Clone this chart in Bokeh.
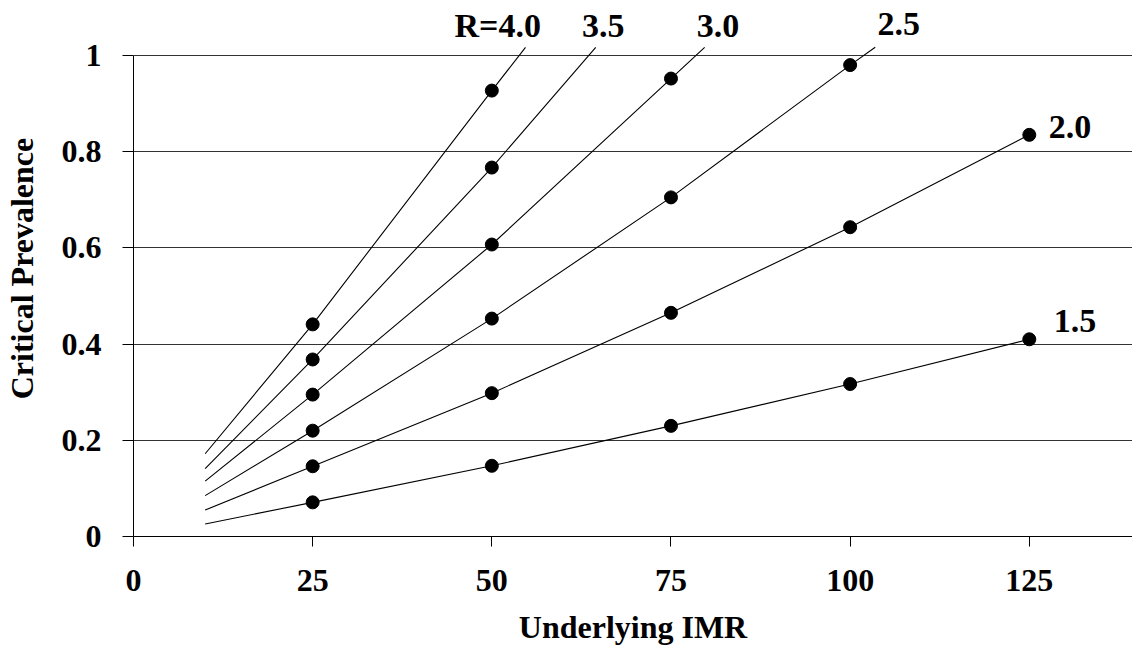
from bokeh.plotting import figure
from bokeh.models import ColumnDataSource, LabelSet, FixedTicker, CustomJSTickFormatter, Range1d
from bokeh.core.properties import value
from bokeh.embed import file_html
from bokeh.resources import INLINE

# ---- data ----
imr = [25, 50, 75, 100, 125]
r_values = ["1.5", "2.0", "2.5", "3.0", "3.5", "4.0"]
prev_r15 = [0.071, 0.147, 0.230, 0.317, 0.410]
prev_r20 = [0.146, 0.298, 0.465, 0.643, 0.835]
prev_r25 = [0.220, 0.453, 0.705, 0.980]
prev_r30 = [0.295, 0.607, 0.952]
prev_r35 = [0.368, 0.767]
prev_r40 = [0.441, 0.927]
# curves start at IMR = 10
start_imr = 10
start_prev = [0.026, 0.055, 0.085, 0.115, 0.141, 0.172]
# where the steeper curves leave the top of the chart
exit_imr = [None, None, 103.5, 79.7, 64.5, 54.7]
exit_prev = 1.017

x_ticks = [0, 25, 50, 75, 100, 125]
y_ticks = [0, 0.2, 0.4, 0.6, 0.8, 1.0]

label_text = ["R=4.0", "3.5", "3.0", "2.5", "2.0", "1.5"]
label_imr = [44.8, 62.6, 78.6, 103.8, 127.7, 128.4]
label_prev = [1.038, 1.038, 1.038, 1.042, 0.828, 0.426]

FONT = "Liberation Serif"

p = figure(width=1132, height=656, output_backend="svg", toolbar_location=None,
           x_range=Range1d(0, 139.4), y_range=Range1d(0, 1.1143),
           min_border_left=133, min_border_right=0, min_border_top=0, min_border_bottom=120)
p.outline_line_color = None
p.background_fill_color = "white"
p.border_fill_color = "white"

series = [prev_r15, prev_r20, prev_r25, prev_r30, prev_r35, prev_r40]
for i, ys in enumerate(series):
    xs = imr[:len(ys)]
    lx = [start_imr] + xs
    ly = [start_prev[i]] + ys
    if exit_imr[i] is not None:
        lx = lx + [exit_imr[i]]
        ly = ly + [exit_prev]
    p.line(lx, ly, line_color="black", line_width=1.1)
    p.scatter(xs, ys, size=13, fill_color="black", line_color="black")

src = ColumnDataSource(dict(x=label_imr, y=label_prev, t=label_text))
p.add_layout(LabelSet(x="x", y="y", text="t", source=src,
                      text_font=value(FONT), text_font_size="34px", text_font_style="bold",
                      text_color="black", text_align="left", text_baseline="alphabetic"))

# axes
p.xaxis.ticker = FixedTicker(ticks=x_ticks)
p.yaxis.ticker = FixedTicker(ticks=y_ticks)
p.yaxis.bounds = (0, 1)
p.yaxis.formatter = CustomJSTickFormatter(code="return tick.toString();")
p.ygrid.ticker = FixedTicker(ticks=y_ticks)
p.xgrid.grid_line_color = None
p.ygrid.grid_line_color = "#333333"
p.ygrid.grid_line_width = 1.2

for ax in (p.xaxis[0], p.yaxis[0]):
    ax.axis_line_color = "black"
    ax.axis_line_width = 1
    ax.major_tick_line_color = "black"
    ax.major_tick_in = 0
    ax.minor_tick_line_color = None
    ax.major_label_text_font = FONT
    ax.major_label_text_font_style = "bold"
    ax.major_label_text_font_size = "32px"
    ax.major_label_text_color = "black"
    ax.axis_label_text_font = FONT
    ax.axis_label_text_font_style = "bold"
    ax.axis_label_text_font_size = "32px"
    ax.axis_label_text_color = "black"

p.xaxis.major_tick_out = 10
p.yaxis.major_tick_out = 11
p.xaxis.major_label_standoff = 23
p.yaxis.major_label_standoff = 21
p.xaxis.axis_label = "Underlying IMR"
p.yaxis.axis_label = "Critical Prevalence"
p.xaxis.axis_label_standoff = 15
p.yaxis.axis_label_standoff = 19

open("out.html", "w").write(file_html(p, INLINE))
